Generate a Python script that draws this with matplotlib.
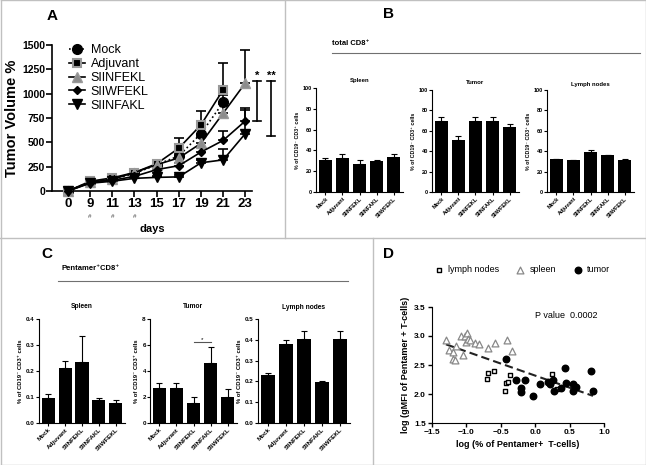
import numpy as np
import matplotlib
matplotlib.use('Agg')
import matplotlib.pyplot as plt
from matplotlib.lines import Line2D
from matplotlib.ticker import FormatStrFormatter
from matplotlib.transforms import blended_transform_factory

plt.rcParams['font.family'] = ['Liberation Sans', 'DejaVu Sans']

W, H = 646, 465

# ---- panel A: tumor growth (days are evenly spaced categories) ----
days = ['0', '9', '11', '13', '15', '17', '19', '21', '23']
mock = [0, 95, 120, 180, 270, 360, 590, 910]
mock_err = [0, 10, 10, 15, 20, 40, 60, 80]
adjuvant = [0, 100, 135, 190, 280, 440, 680, 1040]
adjuvant_err = [0, 10, 15, 15, 30, 100, 140, 280]
siinfekl = [0, 90, 120, 190, 270, 340, 490, 800, 1110]
siinfekl_err = [0, 10, 10, 15, 25, 40, 60, 90, 340]
siiwfekl = [0, 85, 110, 150, 220, 260, 400, 520, 720]
siiwfekl_err = [0, 10, 10, 10, 20, 30, 50, 100, 130]
siinfakl = [0, 80, 100, 130, 140, 145, 290, 320, 590]
siinfakl_err = [0, 10, 10, 10, 15, 20, 30, 110, 240]
hash_days = ['9', '11', '13']

# ---- panel B: total CD8+ ----
groups = ['Mock', 'Adjuvant', 'SIINFEKL', 'SIINFAKL', 'SIIWFEKL']
b_spleen = [31, 33, 27, 30, 33.5]
b_spleen_err = [1.5, 4, 4, 0.5, 3]
b_tumor = [70, 50.5, 70, 70, 63.5]
b_tumor_err = [4, 4, 4, 4, 3.5]
b_lymph = [32, 31, 39, 36, 31.5]
b_lymph_err = [0.5, 0.5, 2, 0.5, 1]

# ---- panel C: pentamer+ CD8+ ----
c_spleen = [0.097, 0.213, 0.233, 0.088, 0.077]
c_spleen_err = [0.013, 0.024, 0.103, 0.008, 0.01]
c_tumor = [2.7, 2.7, 1.55, 4.65, 2.0]
c_tumor_err = [0.35, 0.35, 0.45, 1.2, 0.65]
c_lymph = [0.23, 0.38, 0.405, 0.195, 0.405]
c_lymph_err = [0.01, 0.02, 0.035, 0.005, 0.035]

# ---- panel D: scatter ----
spleen_x = [-1.297, -1.253, -1.19, -1.15, -1.20, -1.17, -1.08, -1.045, -1.02, -0.986,
            -1.006, -0.97, -0.948, -0.875, -0.81, -0.69, -0.585, -0.415, -0.33]
spleen_y = [2.93, 2.76, 2.72, 2.83, 2.61, 2.59, 3.0, 2.68, 3.0, 3.06,
            2.89, 2.95, 2.93, 2.88, 2.86, 2.79, 2.88, 2.93, 2.74]
lymph_x = [-0.705, -0.68, -0.60, -0.44, -0.42, -0.40, -0.36, 0.25, 0.31]
lymph_y = [2.26, 2.37, 2.39, 2.05, 2.19, 2.21, 2.32, 2.35, 2.09]
tumor_x = [-0.42, -0.28, -0.2, -0.2, -0.15, -0.03, 0.07, 0.18, 0.22, 0.26, 0.27,
           0.43, 0.37, 0.45, 0.55, 0.55, 0.6, 0.81, 0.84]
tumor_y = [2.61, 2.25, 2.11, 2.03, 2.24, 1.96, 2.17, 2.2, 2.18, 2.25, 2.05,
           2.44, 2.11, 2.19, 2.18, 2.05, 2.12, 2.4, 2.06]

fig = plt.figure(figsize=(W / 100, H / 100), dpi=100)


def px_axes(l, t, r, b):
    return fig.add_axes([l / W, 1 - b / H, (r - l) / W, (b - t) / H])


def fig_text(x, y, s, **kw):
    fig.text(x / W, 1 - y / H, s, **kw)


def fig_line(x0, y0, x1, y1, color='#c0c0c0', lw=1.0):
    fig.add_artist(Line2D([x0 / W, x1 / W], [1 - y0 / H, 1 - y1 / H],
                          transform=fig.transFigure, color=color, lw=lw))


# panel borders
fig_line(0.5, 0.5, W - 0.5, 0.5)
fig_line(0.5, H - 0.5, W - 0.5, H - 0.5)
fig_line(0.5, 0.5, 0.5, H - 0.5)
fig_line(W - 0.5, 0.5, W - 0.5, H - 0.5)
fig_line(0, 238, W, 238)
fig_line(285, 0, 285, 238)
fig_line(373, 238, 373, H)

# ---------------- A ----------------
ax = px_axes(52, 45, 252, 191)
series = [
    ('Mock', mock, mock_err, dict(marker='o', color='black', ls=':', mfc='black', mec='black', ms=7)),
    ('Adjuvant', adjuvant, adjuvant_err, dict(marker='s', color='black', ls='-', mfc='black', mec='#999999', mew=1.5, ms=6)),
    ('SIINFEKL', siinfekl, siinfekl_err, dict(marker='^', color='black', ls='-', mfc='#8c8c8c', mec='#999999', ms=6.5)),
    ('SIIWFEKL', siiwfekl, siiwfekl_err, dict(marker='D', color='black', ls='-', mfc='black', mec='black', ms=4.5)),
    ('SIINFAKL', siinfakl, siinfakl_err, dict(marker='v', color='black', ls='-', mfc='black', mec='black', ms=6.5)),
]
for name, vals, errs, st in series:
    xi = np.arange(len(vals))
    ax.errorbar(xi, vals, yerr=[np.zeros(len(vals)), errs], fmt='none', ecolor='black',
                elinewidth=1.2, capsize=3.5, capthick=1.2, clip_on=False)
    ax.plot(xi, vals, lw=1.2, label=name, clip_on=False, zorder=3, **st)

ax.set_xlim(-0.72, 8.3)
ax.set_ylim(0, 1500)
ax.set_xticks(np.arange(len(days)))
ax.set_xticklabels(days)
ax.set_yticks([0, 250, 500, 750, 1000, 1250, 1500])
ax.tick_params(axis='x', labelsize=9.5, width=1.2, length=4, pad=1)
ax.tick_params(axis='y', labelsize=7.5, width=1.2, length=4, pad=1)
for lab in ax.get_xticklabels() + ax.get_yticklabels():
    lab.set_fontweight('bold')
for s in ['top', 'right']:
    ax.spines[s].set_visible(False)
for s in ['left', 'bottom']:
    ax.spines[s].set_linewidth(1.2)
ax.set_ylabel('Tumor Volume %', fontsize=10.5, fontweight='bold', labelpad=2)
ax.set_xlabel('days', fontsize=8, fontweight='bold', labelpad=10)
trans = blended_transform_factory(ax.transData, ax.transAxes)
for d in hash_days:
    ax.text(days.index(d), -0.172, '#', transform=trans, ha='center', va='center',
            fontsize=4.5, color='#444444')
ax.legend(loc='upper left', bbox_to_anchor=(0.06, 1.04), frameon=False, fontsize=9,
          handlelength=1.3, labelspacing=0.15, handletextpad=0.45, borderaxespad=0)
# significance bars
for xs, lo, hi, star in [(8.53, 720, 1125, '*'), (9.16, 570, 1125, '**')]:
    ax.plot([xs, xs], [lo, hi], color='black', lw=1.2, clip_on=False)
    ax.plot([xs - 0.17, xs + 0.17], [lo, lo], color='black', lw=1.2, clip_on=False)
    ax.plot([xs - 0.17, xs + 0.17], [hi, hi], color='black', lw=1.2, clip_on=False)
    ax.text(xs, hi + 10, star, ha='center', va='bottom', fontsize=8, fontweight='bold')
fig_text(52, 16, 'A', fontsize=11, fontweight='bold', ha='center', va='center')


def bar_panel(box, vals, errs, ticks, ylim, title, fs, tpad, fmt, sig=None):
    a = px_axes(*box)
    x = np.arange(len(vals))
    a.bar(x, vals, width=0.78, color='black', zorder=2)
    a.errorbar(x, vals, yerr=[np.zeros(len(vals)), errs], fmt='none', ecolor='black',
               elinewidth=0.8, capsize=2.2, capthick=0.8, zorder=1)
    a.set_xlim(-0.55, len(vals) - 0.45)
    a.set_ylim(*ylim)
    a.set_yticks(ticks)
    a.yaxis.set_major_formatter(FormatStrFormatter(fmt))
    a.set_xticks(x)
    a.set_xticklabels(groups, rotation=45, ha='right', rotation_mode='anchor')
    a.tick_params(labelsize=fs, width=0.8, length=2, pad=1)
    for lab in a.get_xticklabels() + a.get_yticklabels():
        lab.set_fontweight('bold')
    for s in ['top', 'right']:
        a.spines[s].set_visible(False)
    for s in ['left', 'bottom']:
        a.spines[s].set_linewidth(0.8)
    a.set_ylabel('% of CD19\u207b CD3\u207a cells', fontsize=fs * 0.95, fontweight='bold', labelpad=2)
    a.set_title(title, fontsize=fs + 0.3, fontweight='bold', pad=tpad)
    if sig is not None:
        i0, i1, yv = sig
        a.plot([i0, i1], [yv, yv], color='#555555', lw=0.8)
        a.text((i0 + i1) / 2, yv, '*', ha='center', va='bottom', fontsize=fs)
    return a


# ---------------- B ----------------
fig_text(389, 14, 'B', fontsize=11, fontweight='bold', ha='center', va='center')
fig_text(332, 43, 'total CD8\u207a', fontsize=5.5, fontweight='bold', ha='left', va='center')
fig_line(332, 53, 640, 53, color='#707070', lw=0.8)
bticks = [0, 20, 40, 60, 80, 100]
bar_panel((316, 88, 403, 192), b_spleen, b_spleen_err, bticks, (0, 100), 'Spleen', 4, 4, '%d')
bar_panel((432, 90, 519, 192), b_tumor, b_tumor_err, bticks, (0, 100), 'Tumor', 4, 4, '%d')
bar_panel((547, 90, 634, 192), b_lymph, b_lymph_err, bticks, (0, 100), 'Lymph nodes', 4, 3, '%d')

# ---------------- C ----------------
fig_text(47, 254, 'C', fontsize=11, fontweight='bold', ha='center', va='center')
fig_text(62, 269, 'Pentamer\u207aCD8\u207a', fontsize=5.5, fontweight='bold', ha='left', va='center')
fig_line(58, 281, 348, 281, color='#707070', lw=0.8)
bar_panel((39, 319, 125, 423), c_spleen, c_spleen_err, [0.0, 0.1, 0.2, 0.3, 0.4], (0, 0.4),
          'Spleen', 4.5, 8, '%.1f')
bar_panel((150, 319, 237, 423), c_tumor, c_tumor_err, [0, 2, 4, 6, 8], (0, 8),
          'Tumor', 4.5, 8, '%d', sig=(2, 3, 6.2))
bar_panel((258, 319, 350, 423), c_lymph, c_lymph_err, [0.0, 0.1, 0.2, 0.3, 0.4, 0.5], (0, 0.5),
          'Lymph nodes', 4.5, 7, '%.1f')

# ---------------- D ----------------
fig_text(389, 254, 'D', fontsize=11, fontweight='bold', ha='center', va='center')
ad = px_axes(432, 307, 604, 423)
ad.scatter(lymph_x, lymph_y, marker='s', s=10, facecolors='white', edgecolors='black', linewidths=1.0,
           label='lymph nodes', zorder=3)
ad.scatter(spleen_x, spleen_y, marker='^', s=24, facecolors='white', edgecolors='#888888', linewidths=0.9,
           label='spleen', zorder=3)
ad.scatter(tumor_x, tumor_y, marker='o', s=22, color='black', label='tumor', zorder=3)
all_x = np.array(spleen_x + lymph_x + tumor_x)
all_y = np.array(spleen_y + lymph_y + tumor_y)
k, b0 = np.polyfit(all_x, all_y, 1)
fx = np.array([all_x.min(), all_x.max()])
ad.plot(fx, k * fx + b0, ls=(0, (4, 2)), color='#222222', lw=1.5, zorder=2)
ad.set_xlim(-1.5, 1.0)
ad.set_ylim(1.5, 3.5)
ad.set_xticks([-1.5, -1.0, -0.5, 0.0, 0.5, 1.0])
ad.set_yticks([1.5, 2.0, 2.5, 3.0, 3.5])
ad.tick_params(labelsize=6, width=1.0, length=3, pad=1.5)
for lab in ad.get_xticklabels() + ad.get_yticklabels():
    lab.set_fontweight('bold')
for s in ['top', 'right']:
    ad.spines[s].set_visible(False)
ad.set_xlabel('log (% of Pentamer+  T-cells)', fontsize=6.5, fontweight='bold', labelpad=3)
ad.set_ylabel('log (gMFI of Pentamer + T-cells)', fontsize=6.5, fontweight='bold', labelpad=3)
ad.text(0.96, 0.93, 'P value  0.0002', transform=ad.transAxes, ha='right', va='center', fontsize=6.5)
ad.legend(loc='center', bbox_to_anchor=(0.52, 1.32), ncol=3, frameon=False, fontsize=6.5,
          handletextpad=0.4, columnspacing=1.8, handlelength=1.2)

fig.savefig('out.png', dpi=100)
